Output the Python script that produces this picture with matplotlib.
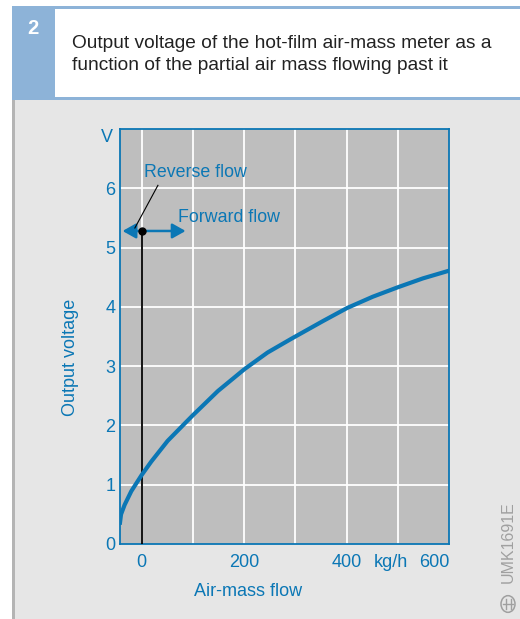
import matplotlib
matplotlib.use("Agg")
import matplotlib.pyplot as plt
from matplotlib.patches import Rectangle, Circle
from matplotlib.lines import Line2D

plt.rcParams['font.family'] = ['Liberation Sans', 'DejaVu Sans']

# Characteristic curve: air-mass flow (kg/h) vs. output voltage (V)
flow = [-42, -40, -33, -20, 0, 19, 51, 84, 100, 149, 201, 246, 292, 354, 401, 451, 500, 549, 600]
voltage = [0.36, 0.50, 0.66, 0.89, 1.16, 1.39, 1.74, 2.03, 2.17, 2.58, 2.95, 3.23, 3.46,
           3.76, 3.98, 4.17, 4.33, 4.48, 4.61]

x_ticks = [0, 200, 400, 600]
x_tick_labels = ["0", "200", "400", "600"]
y_ticks = [0, 1, 2, 3, 4, 5, 6]
x_grid = [0, 100, 200, 300, 400, 500]
marker_voltage = 5.28

BLUE = "#0b77b5"
W, H = 520, 619

fig = plt.figure(figsize=(W / 100, H / 100), dpi=100)
fig.patch.set_facecolor("white")


def fx(px):
    return px / W


def fy(py):
    return 1 - py / H


def frect(x0, y0, x1, y1, color, z=-2):
    fig.patches.append(Rectangle((fx(x0), fy(y1)), fx(x1) - fx(x0), fy(y0) - fy(y1),
                                 transform=fig.transFigure, facecolor=color,
                                 edgecolor="none", zorder=z))


# Page panel and header
frect(12, 100, 520, 619, "#e6e6e6")
frect(12, 100, 15, 619, "#b4b4b4", z=-1)
frect(12, 6, 520, 100, "#8db3d8")
frect(55, 9, 520, 97, "white", z=-1)
fig.text(fx(32.5), fy(28), "2", color="white", fontsize=14.5, fontweight="bold",
         ha="center", va="center")
fig.text(fx(72), fy(43), "Output voltage of the hot-film air-mass meter as a",
         color="#222222", fontsize=13.8, ha="left", va="center")
fig.text(fx(72), fy(65), "function of the partial air mass flowing past it",
         color="#222222", fontsize=13.8, ha="left", va="center")

# Chart area
ax = fig.add_axes([fx(120), fy(544), fx(449) - fx(120), fy(129) - fy(544)])
ax.set_zorder(5)
ax.set_facecolor("#bebebe")
ax.set_xlim(-42, 600)
ax.set_ylim(0, 7)
for s in ax.spines.values():
    s.set_color(BLUE)
    s.set_linewidth(1.3)

for xv in x_grid:
    ax.axvline(xv, color="white", lw=1.3, zorder=1)
for yv in y_ticks[1:]:
    ax.axhline(yv, color="white", lw=1.3, zorder=1)

ax.set_xticks(x_ticks)
ax.set_xticklabels(x_tick_labels)
ax.set_yticks(y_ticks)
ax.set_yticklabels([str(v) for v in y_ticks])
ax.tick_params(length=0, colors=BLUE, labelsize=13)
ax.tick_params(axis="y", pad=3.5)
ax.tick_params(axis="x", pad=7)
ax.get_xticklabels()[-1].set_horizontalalignment("right")

# Unit labels
ax.text(-0.022, 6.86, "V", color=BLUE, fontsize=13, ha="right", va="center",
        transform=ax.get_yaxis_transform(), clip_on=False)
ax.text(486, -0.17, "kg/h", color=BLUE, fontsize=13, ha="center", va="top",
        transform=ax.transData, clip_on=False)

ax.set_xlabel("Air-mass flow", color=BLUE, fontsize=13, labelpad=8)
ax.xaxis.set_label_coords(0.389, -0.095)
ax.set_ylabel("Output voltage", color=BLUE, fontsize=13)
ax.yaxis.set_label_coords(-0.124, 0.45)

# Zero-flow marker
ax.plot([0, 0], [0, marker_voltage], color="black", lw=1.3, zorder=3)
ax.plot([0], [marker_voltage], "o", color="black", ms=5, zorder=5)

# Direction arrows
arrow_style = "-|>,head_length=0.8,head_width=0.45"
ax.annotate("", xy=(-37, marker_voltage), xytext=(0, marker_voltage),
            arrowprops=dict(arrowstyle=arrow_style, color=BLUE, lw=1.8,
                            shrinkA=0, shrinkB=0), zorder=4)
ax.annotate("", xy=(86, marker_voltage), xytext=(0, marker_voltage),
            arrowprops=dict(arrowstyle=arrow_style, color=BLUE, lw=1.8,
                            shrinkA=0, shrinkB=0), zorder=4)
ax.plot([-13, 32], [5.33, 6.05], color="black", lw=0.8, zorder=4)
ax.text(5, 6.27, "Reverse flow", color=BLUE, fontsize=12.8, ha="left", va="center")
ax.text(71, 5.51, "Forward flow", color=BLUE, fontsize=12.8, ha="left", va="center")

# Characteristic curve
ax.plot(flow, voltage, color=BLUE, lw=3, solid_joinstyle="round", zorder=4, clip_on=True)

# Drawing number and logo
fig.text(fx(508), fy(542), "UMK1691E", color="#a0a0a0", fontsize=11.5,
         rotation=90, ha="center", va="center")
cx, cy, r = 508, 604, 7
fig.patches.append(Circle((fx(cx), fy(cy)), r / W, transform=fig.transFigure,
                          facecolor="none", edgecolor="#a0a0a0", lw=1.1))
for (x0, y0, x1, y1) in [(cx - 5, cy, cx + 5, cy), (cx - 2.5, cy - 5, cx - 2.5, cy + 5),
                         (cx + 2.5, cy - 5, cx + 2.5, cy + 5)]:
    fig.lines.append(Line2D([fx(x0), fx(x1)], [fy(y0), fy(y1)], transform=fig.transFigure,
                            color="#a0a0a0", lw=1.0))

fig.savefig("out.png", dpi=100)
